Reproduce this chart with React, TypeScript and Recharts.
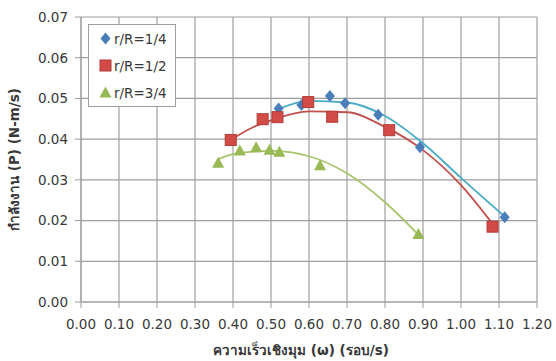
import React from 'react';
import { ComposedChart, Scatter, Line, XAxis, YAxis, CartesianGrid, Legend } from 'recharts';

interface Pt {
  x: number
  y: number
};

const xTicks = [0, 0.1, 0.2, 0.3, 0.4, 0.5, 0.6, 0.7, 0.8, 0.9, 1.0, 1.1, 1.2];
const yTicks = [0, 0.01, 0.02, 0.03, 0.04, 0.05, 0.06, 0.07];

const seriesNames = ['r/R=1/4', 'r/R=1/2', 'r/R=3/4'];

// measured points
const quarterPts: Pt[] = [
  { x: 0.52, y: 0.0475 }, { x: 0.58, y: 0.0484 }, { x: 0.655, y: 0.0506 },
  { x: 0.695, y: 0.0488 }, { x: 0.782, y: 0.046 }, { x: 0.892, y: 0.038 },
  { x: 1.115, y: 0.0208 },
];
const halfPts: Pt[] = [
  { x: 0.394, y: 0.0398 }, { x: 0.478, y: 0.0449 }, { x: 0.517, y: 0.0454 },
  { x: 0.598, y: 0.0491 }, { x: 0.661, y: 0.0455 }, { x: 0.811, y: 0.0422 },
  { x: 1.083, y: 0.0185 },
];
const threeQuarterPts: Pt[] = [
  { x: 0.361, y: 0.0342 }, { x: 0.418, y: 0.0372 }, { x: 0.461, y: 0.038 },
  { x: 0.496, y: 0.0374 }, { x: 0.522, y: 0.0369 }, { x: 0.629, y: 0.0336 },
  { x: 0.888, y: 0.0167 },
];

// trendlines
const quarterTrend: Pt[] = [
  { x: 0.52, y: 0.0474 }, { x: 0.6, y: 0.0494 }, { x: 0.7, y: 0.049 },
  { x: 0.8, y: 0.0457 }, { x: 0.9, y: 0.039 }, { x: 1.0, y: 0.0305 },
  { x: 1.115, y: 0.021 },
];
const halfTrend: Pt[] = [
  { x: 0.394, y: 0.0398 }, { x: 0.45, y: 0.0428 }, { x: 0.5, y: 0.0446 },
  { x: 0.6, y: 0.0468 }, { x: 0.7, y: 0.0466 }, { x: 0.8, y: 0.043 },
  { x: 0.9, y: 0.0373 }, { x: 1.0, y: 0.0287 }, { x: 1.083, y: 0.0192 },
];
const threeQuarterTrend: Pt[] = [
  { x: 0.361, y: 0.035 }, { x: 0.4, y: 0.0363 }, { x: 0.5, y: 0.0371 },
  { x: 0.6, y: 0.0358 }, { x: 0.7, y: 0.0316 }, { x: 0.8, y: 0.0245 },
  { x: 0.888, y: 0.0165 },
];

const FONT = '"DejaVu Sans", "Noto Sans", sans-serif';
const TEXT = '#383838';
const GRID = '#9e9e9e';

const Diamond = ({ cx, cy }: any) => (
  <path d={`M${cx},${cy - 6}L${cx + 5},${cy}L${cx},${cy + 6}L${cx - 5},${cy}Z`} fill="#4a7ebb" />
);
const Square = ({ cx, cy }: any) => (
  <rect x={cx - 5.5} y={cy - 5.5} width={11} height={11} fill="#d24b47" stroke="#b13c38" strokeWidth={1} />
);
const Triangle = ({ cx, cy }: any) => (
  <path d={`M${cx},${cy - 6}L${cx + 6},${cy + 5}L${cx - 6},${cy + 5}Z`} fill="#98b954" />
);

const markers = [Diamond, Square, Triangle];

function renderLegend() {
  return (
    <div style={{
      border: `1px solid ${GRID}`, background: '#fff', width: 88, boxSizing: 'border-box',
      fontFamily: FONT, fontSize: 13.5, color: TEXT,
    }}>
      {seriesNames.map((name, i) => {
        const M = markers[i];
        return (
          <div key={name} style={{ display: 'flex', alignItems: 'center', height: 27, paddingLeft: 10 }}>
            <svg width={13} height={13}><M cx={6.5} cy={6.5} /></svg>
            <span style={{ marginLeft: 2 }}>{name}</span>
          </div>
        );
      })}
    </div>
  );
}

const yTitle = (props: any) => {
  const vb = props.viewBox || { x: 0, y: 17, width: 81, height: 285 };
  const cy = vb.y + vb.height / 2;
  return (
    <text x={14} y={cy} transform={`rotate(-90 14 ${cy})`} textAnchor="middle" dominantBaseline="central"
      style={{ fontFamily: FONT, fontSize: 13.5, fontWeight: 'bold', fill: TEXT }}>
      กำลังงาน (P) (N-m/s)
    </text>
  );
};

const xTitle = (props: any) => {
  const vb = props.viewBox || { x: 81, y: 302, width: 456, height: 59 };
  const cx = vb.x + vb.width / 2 - 8;
  return (
    <text x={cx} y={350} textAnchor="middle" dominantBaseline="central"
      style={{ fontFamily: FONT, fontSize: 13.5, fontWeight: 'bold', fill: TEXT }}>
      ความเร็วเชิงมุม (ω) (รอบ/s)
    </text>
  );
};

export default function App() {
  const tickStyle = { fontFamily: FONT, fontSize: 13.5, fill: TEXT };
  return (
    <div style={{ position: 'absolute', left: 0, top: 0, background: '#fff' }}>
      <ComposedChart width={556} height={361} margin={{ top: 17, right: 19, bottom: 0, left: 0 }}>
        <CartesianGrid stroke={GRID} strokeWidth={1.2} />
        <XAxis dataKey="x" type="number" domain={[0, 1.2]} ticks={xTicks} height={59}
          tickFormatter={(v: number) => v.toFixed(2)} tick={tickStyle}
          stroke={GRID} tickSize={6} tickMargin={11} interval={0} label={xTitle} allowDataOverflow />
        <YAxis type="number" domain={[0, 0.07]} ticks={yTicks} width={81}
          tickFormatter={(v: number) => v.toFixed(2)} tick={tickStyle}
          stroke={GRID} tickSize={6} tickMargin={7} interval={0} label={yTitle} allowDataOverflow />
        <Legend layout="vertical" align="center" verticalAlign="middle" content={renderLegend}
          wrapperStyle={{ left: 88, top: 24, width: 88 }} />
        <Line data={quarterTrend} dataKey="y" type="monotone" stroke="#4bacc6" strokeWidth={1.8}
          dot={false} activeDot={false} legendType="none" isAnimationActive={false} />
        <Line data={halfTrend} dataKey="y" type="monotone" stroke="#c0504d" strokeWidth={1.8}
          dot={false} activeDot={false} legendType="none" isAnimationActive={false} />
        <Line data={threeQuarterTrend} dataKey="y" type="monotone" stroke="#a9c46e" strokeWidth={1.8}
          dot={false} activeDot={false} legendType="none" isAnimationActive={false} />
        <Scatter name={seriesNames[0]} data={quarterPts} dataKey="y" shape={Diamond} isAnimationActive={false} />
        <Scatter name={seriesNames[1]} data={halfPts} dataKey="y" shape={Square} isAnimationActive={false} />
        <Scatter name={seriesNames[2]} data={threeQuarterPts} dataKey="y" shape={Triangle} isAnimationActive={false} />
      </ComposedChart>
    </div>
  );
}
